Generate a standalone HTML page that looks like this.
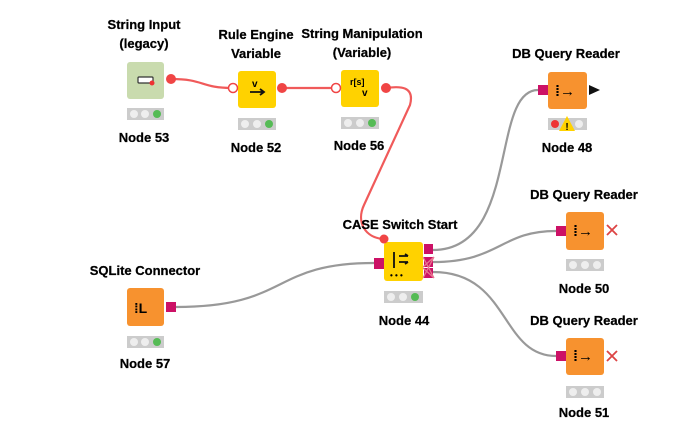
<!DOCTYPE html>
<html><head><style>
body{margin:0;background:#fff;}
svg{display:block;font-family:"Liberation Sans",Arial,sans-serif;}
.t{font-weight:bold;font-size:13px;fill:#000;text-anchor:middle;stroke:#000;stroke-width:0.25;}
</style></head><body>
<svg width="690" height="435" viewBox="0 0 690 435" xmlns="http://www.w3.org/2000/svg">
<g fill="none" stroke-width="2.2">
<path d="M171,79 C205,79 200,88 233,88" stroke="#f05a5a"/>
<path d="M282,88 L336,88" stroke="#f05a5a"/>
<path d="M386,88 C400,86 415,86 410,105 L364,205 C356,222 365,238 384,239" stroke="#f05a5a"/>
<path d="M176,307 C290,307 270,263 374,263" stroke="#999"/>
<path d="M433,250 C520,250 490,90 538,90" stroke="#999"/>
<path d="M433,262 C500,262 500,231 556,231" stroke="#999"/>
<path d="M433,272 C510,272 500,356 556,356" stroke="#999"/>
</g>
<!-- Node 53 -->
<text class="t" x="144" y="29">String Input</text>
<text class="t" x="144" y="48">(legacy)</text>
<rect x="127" y="62" width="37" height="37" rx="3" fill="#c9dbae"/>
<rect x="138" y="77" width="15" height="6" rx="1" fill="#fff" stroke="#333" stroke-width="1.2"/>
<circle cx="152" cy="83" r="2.5" fill="#e33"/>
<circle cx="171" cy="79" r="5" fill="#f04545"/>
<rect x="127" y="108" width="37" height="12" fill="#ccc"/>
<circle cx="134" cy="114" r="4" fill="#eee"/><circle cx="145" cy="114" r="4" fill="#eee"/><circle cx="157" cy="114" r="4" fill="#5b5"/>
<text class="t" x="144" y="142">Node 53</text>
<!-- Node 52 -->
<text class="t" x="256" y="39">Rule Engine</text>
<text class="t" x="256" y="58">Variable</text>
<rect x="238" y="71" width="38" height="37" rx="3" fill="#ffd200"/>
<text x="252" y="87" font-size="10" font-weight="bold">v</text>
<path d="M250,92 h14 m-4,-3 l4,3 l-4,3" stroke="#111" stroke-width="1.8" fill="none"/>
<circle cx="233" cy="88" r="4.5" fill="#fff" stroke="#f04545" stroke-width="1.5"/>
<circle cx="282" cy="88" r="5" fill="#f04545"/>
<rect x="238" y="118" width="38" height="12" fill="#ccc"/>
<circle cx="245" cy="124" r="4" fill="#eee"/><circle cx="257" cy="124" r="4" fill="#eee"/><circle cx="269" cy="124" r="4" fill="#5b5"/>
<text class="t" x="256" y="152">Node 52</text>
<!-- Node 56 -->
<text class="t" x="362" y="38">String Manipulation</text>
<text class="t" x="362" y="57">(Variable)</text>
<rect x="341" y="70" width="38" height="37" rx="3" fill="#ffd200"/>
<text x="350" y="85" font-size="9" font-weight="bold">r[s]</text>
<text x="362" y="96" font-size="10" font-weight="bold">v</text>
<circle cx="336" cy="88" r="4.5" fill="#fff" stroke="#f04545" stroke-width="1.5"/>
<circle cx="386" cy="88" r="5" fill="#f04545"/>
<rect x="341" y="117" width="38" height="12" fill="#ccc"/>
<circle cx="348" cy="123" r="4" fill="#eee"/><circle cx="360" cy="123" r="4" fill="#eee"/><circle cx="372" cy="123" r="4" fill="#5b5"/>
<text class="t" x="359" y="150">Node 56</text>
<!-- Node 48 -->
<text class="t" x="566" y="58">DB Query Reader</text>
<rect x="548" y="72" width="39" height="37" rx="3" fill="#f7922f"/>
<text x="555" y="96" font-size="15" font-weight="bold">⁞→</text>
<rect x="538" y="85" width="10" height="10" fill="#cc1166"/>
<path d="M589,85 L600,90 L589,95 Z" fill="#111"/>
<rect x="548" y="118" width="39" height="12" fill="#ccc"/>
<circle cx="555" cy="124" r="4" fill="#e33"/><circle cx="579" cy="124" r="4" fill="#eee"/>
<path d="M567,116 L575,131 L559,131 Z" fill="#ffd200"/>
<text x="567" y="130" font-size="10" font-weight="bold" text-anchor="middle">!</text>
<text class="t" x="567" y="152">Node 48</text>
<!-- Node 44 -->
<text class="t" x="400" y="229">CASE Switch Start</text>
<rect x="384" y="242" width="39" height="39" rx="3" fill="#ffd200"/>
<path d="M394,252 v16 M399,256 h9 m-3,-2 l3,2 M399,262 h9 m-3,2 l3,-2" stroke="#111" stroke-width="1.8" fill="none"/>
<text x="390" y="278" font-size="8" font-weight="bold">• • •</text>
<circle cx="384" cy="239" r="4.5" fill="#f04545"/>
<rect x="374" y="258" width="10" height="11" fill="#cc1166"/>
<rect x="424" y="244" width="9" height="10" fill="#cc1166"/>
<rect x="424" y="257" width="9" height="10" fill="#cc1166"/>
<rect x="424" y="268" width="9" height="10" fill="#cc1166"/>
<path d="M423,257 l11,21 M434,257 l-11,21 M423,267 l11,-10 M423,268 l11,10" stroke="#e8778f" stroke-width="1.3"/>
<rect x="384" y="291" width="39" height="12" fill="#ccc"/>
<circle cx="391" cy="297" r="4" fill="#eee"/><circle cx="403" cy="297" r="4" fill="#eee"/><circle cx="415" cy="297" r="4" fill="#5b5"/>
<text class="t" x="404" y="325">Node 44</text>
<!-- Node 50 -->
<text class="t" x="584" y="199">DB Query Reader</text>
<rect x="566" y="212" width="38" height="38" rx="3" fill="#f7922f"/>
<text x="573" y="236" font-size="15" font-weight="bold">⁞→</text>
<rect x="556" y="226" width="10" height="10" fill="#cc1166"/>
<path d="M607,225 l10,10 M617,225 l-10,10" stroke="#d44" stroke-width="1.8"/>
<rect x="566" y="259" width="38" height="12" fill="#ccc"/>
<circle cx="573" cy="265" r="4" fill="#eee"/><circle cx="585" cy="265" r="4" fill="#eee"/><circle cx="597" cy="265" r="4" fill="#eee"/>
<text class="t" x="584" y="293">Node 50</text>
<!-- Node 51 -->
<text class="t" x="584" y="325">DB Query Reader</text>
<rect x="566" y="338" width="38" height="37" rx="3" fill="#f7922f"/>
<text x="573" y="361" font-size="15" font-weight="bold">⁞→</text>
<rect x="556" y="351" width="10" height="10" fill="#cc1166"/>
<path d="M607,351 l10,10 M617,351 l-10,10" stroke="#d44" stroke-width="1.8"/>
<rect x="566" y="386" width="38" height="12" fill="#ccc"/>
<circle cx="573" cy="392" r="4" fill="#eee"/><circle cx="585" cy="392" r="4" fill="#eee"/><circle cx="597" cy="392" r="4" fill="#eee"/>
<text class="t" x="584" y="417">Node 51</text>
<!-- Node 57 -->
<text class="t" x="145" y="275">SQLite Connector</text>
<rect x="127" y="288" width="37" height="38" rx="3" fill="#f7922f"/>
<text x="134" y="313" font-size="14" font-weight="bold">⁞L</text>
<rect x="166" y="302" width="10" height="10" fill="#cc1166"/>
<rect x="127" y="336" width="37" height="12" fill="#ccc"/>
<circle cx="134" cy="342" r="4" fill="#eee"/><circle cx="145" cy="342" r="4" fill="#eee"/><circle cx="157" cy="342" r="4" fill="#5b5"/>
<text class="t" x="145" y="368">Node 57</text>
</svg>
</body></html>
